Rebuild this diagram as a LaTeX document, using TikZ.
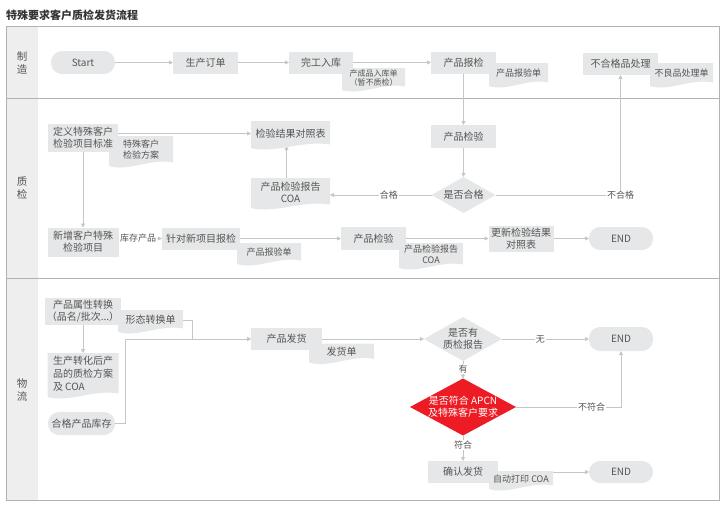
\documentclass[tikz,border=0pt]{standalone}
\usepackage{fontspec}
\setmainfont{Noto Sans CJK SC}
\usetikzlibrary{arrows.meta,shapes.geometric,calc}
\definecolor{boxgray}{RGB}{230,231,232}
\definecolor{lanegray}{RGB}{238,238,238}
\definecolor{framegray}{RGB}{178,178,178}
\definecolor{linegray}{RGB}{198,198,198}
\definecolor{textgray}{RGB}{85,85,85}
\definecolor{titlegray}{RGB}{51,51,51}
\definecolor{alertred}{RGB}{237,28,36}
\pgfdeclarelayer{edges}
\pgfdeclarelayer{docs}
\pgfsetlayers{edges,docs,main}
\newcommand{\docback}[1]{%
  \fill[boxgray] (#1.north west) -- (#1.north east) -- ([yshift=1.5pt]#1.south east)
    .. controls ($(#1.south east)!0.35!(#1.south west)+(0,6pt)$) and ($(#1.south east)!0.7!(#1.south west)+(0,-8pt)$) .. ([yshift=-2pt]#1.south west) -- cycle;}

\begin{document}
\begin{tikzpicture}[x=1pt,y=-1pt,
  box/.style={fill=boxgray, text=textgray, minimum width=65pt, minimum height=22pt, inner sep=1pt, outer sep=0pt, align=center, font=\fontsize{10}{12}\selectfont},
  term/.style={box, rounded corners=11pt},
  doc/.style={text=textgray, inner sep=1pt, outer sep=0pt, align=center, font=\fontsize{9}{11}\selectfont},
  decision/.style={diamond, fill=boxgray, inner sep=0pt, outer sep=0pt},
  dtext/.style={text=textgray, align=center, font=\fontsize{10}{12}\selectfont},
  lanetext/.style={text=textgray, align=center, inner sep=0pt, font=\fontsize{10.5}{13}\selectfont},
  flow/.style={draw=linegray, line width=0.8pt, -{Triangle[length=4pt,width=4pt]}},
  tag/.style={fill=white, text=textgray, inner sep=1pt, font=\fontsize{9}{11}\selectfont}]
\useasboundingbox (0,0) rectangle (725,506);

\node[anchor=west, inner sep=0pt, text=titlegray, font=\bfseries\fontsize{11}{13}\selectfont] (title) at (6,15) {特殊要求客户质检发货流程};
\node[lanetext] (lmake) at (22,63) {制\\造};
\node[lanetext] (lqc) at (22,188.5) {质\\检};
\node[lanetext] (llog) at (22,389.5) {物\\流};

% 制造
\node[term, minimum width=64pt, minimum height=23pt] (start) at (83,62.5) {Start};
\node[box] (order) at (205.5,62.5) {生产订单};
\node[box, minimum width=64pt] (done) at (321,62.5) {完工入库};
\node[box] (report) at (463.5,62.5) {产品报检};
\node[box, minimum width=75pt] (ngproc) at (620.5,64) {不合格品处理};

% 质检
\node[box, minimum width=70pt, minimum height=28pt] (def) at (83,138) {定义特殊客户\\检验项目标准};
\node[box, minimum height=23pt] (insp1) at (463.5,136.5) {产品检验};
\node[decision, minimum width=64pt, minimum height=36pt, label={[dtext]center:是否合格}] (pass) at (463.5,195) {};
\node[box, minimum width=71pt, minimum height=29pt] (newitem) at (83,242) {新增客户特殊\\检验项目};
\node[box, minimum width=78pt] (newrep) at (201,238.5) {针对新项目报检};
\node[box, minimum height=23pt] (insp2) at (373.5,238.5) {产品检验};
\node[box, minimum height=26pt] (update) at (521,238.5) {更新检验结果\\对照表};
\node[term, minimum width=64pt, minimum height=23pt] (end1) at (621,238.5) {END};

% 物流
\node[box, minimum width=76pt, minimum height=27pt] (conv) at (83,311.5) {产品属性转换\\（品名/批次...）};
\node[term, minimum width=67pt, minimum height=23pt] (stock) at (81.5,423.5) {合格产品库存};
\node[box, minimum width=71pt] (ship) at (286.5,339) {产品发货};
\node[decision, minimum width=78pt, minimum height=44pt, label={[dtext]center:是否有\\质检报告}] (hasrep) at (463,339) {};
\node[term, minimum width=64pt, minimum height=24pt] (end2) at (621,339) {END};
\node[decision, fill=alertred, minimum width=106pt, minimum height=57pt, label={[dtext, text=white]center:是否符合 APCN\\及特殊客户要求}] (apcn) at (463,407) {};
\node[box, minimum width=70pt] (confirm) at (463,472) {确认发货};
\node[term, minimum width=64pt, minimum height=22pt] (end3) at (621,472) {END};

% documents
\node[doc, minimum width=63pt, minimum height=20pt, font=\fontsize{8}{9.5}\selectfont] (instock) at (373.5,78) {产成品入库单\\（暂不质检）};
\node[doc, minimum width=59pt, minimum height=21pt] (repdoc1) at (518.5,73.5) {产品报验单};
\node[doc, minimum width=63pt, minimum height=21pt] (ngdoc) at (681.5,73.5) {不良品处理单};
\node[doc, minimum width=64pt, minimum height=28pt] (plan) at (141,150) {特殊客户\\检验方案};
\node[doc, minimum width=79pt, minimum height=25pt, font=\fontsize{10}{12}\selectfont] (cmp) at (290.5,133.5) {检验结果对照表};
\node[doc, minimum width=79pt, minimum height=28pt, font=\fontsize{10}{12}\selectfont] (coa1) at (290.5,192) {产品检验报告\\COA};
\node[doc, minimum width=64pt, minimum height=19pt] (repdoc2) at (269,252.5) {产品报验单};
\node[doc, minimum width=64pt, minimum height=23pt] (coa2) at (431,254.5) {产品检验报告\\COA};
\node[doc, minimum width=65pt, minimum height=20pt, font=\fontsize{10}{12}\selectfont] (formdoc) at (150.5,320) {形态转换单};
\node[doc, minimum width=65pt, minimum height=17pt, font=\fontsize{10}{12}\selectfont] (shipdoc) at (341.5,352) {发货单};
\node[doc, minimum width=71pt, minimum height=42pt, align=left, font=\fontsize{10}{13}\selectfont] (convdoc) at (83,374) {生产转化后产\\品的质检方案\\及 COA};
\node[doc, minimum width=64pt, minimum height=16pt] (coa3) at (521,479) {自动打印 COA};

\begin{pgfonlayer}{docs}
\docback{instock} \docback{repdoc1} \docback{ngdoc} \docback{plan}
\docback{cmp} \docback{coa1} \docback{repdoc2} \docback{coa2}
\docback{formdoc} \docback{shipdoc} \docback{convdoc} \docback{coa3}
\end{pgfonlayer}

\begin{pgfonlayer}{edges}
\fill[lanegray] (6,26) rectangle (38,500);
\draw[framegray, line width=0.8pt] (6,26) rectangle (719,500);
\draw[framegray, line width=0.8pt] (6,98) -- (719,98);
\draw[framegray, line width=0.8pt] (6,278) -- (719,278);

\draw[flow] (start) -- (order);
\draw[flow] (order) -- (done);
\draw[flow] (done) -- (report);
\draw[flow] (report) -- (insp1);
\draw[flow] (insp1) -- (pass);
\draw[flow] (pass.west) -- node[tag, pos=0.42] {合格} (pass.west -| coa1.east);
\draw[flow] (pass.east) -| node[tag, pos=0.5] {不合格} (ngproc.south);
\draw[flow] ([xshift=-4pt]coa1.north) -- ([xshift=-4pt]cmp.south);
\draw[flow] (def.east |- cmp.west) -- (cmp.west);
\draw[flow] (def) -- (newitem);
\draw[flow] (newitem.east |- newrep.west) -- node[tag, pos=0.45] {库存产品} (newrep.west);
\draw[flow] (newrep) -- (insp2);
\draw[flow] (insp2) -- (update);
\draw[flow] (update) -- (end1);

\draw[flow] (conv) -- (convdoc);
\draw[flow] (formdoc.east) -- ++(9,0) |- (ship.west);
\draw[flow] (stock.east) -- ++(10,0) |- (ship.west);
\draw[flow] (ship) -- (hasrep);
\draw[flow] (hasrep) -- node[tag, pos=0.44] {无} (end2);
\draw[flow] (hasrep) -- node[tag, pos=0.45] {有} (apcn);
\draw[flow] (apcn.east) -| node[tag, pos=0.36] {不符合} (end2.south);
\draw[flow] (apcn) -- node[tag, pos=0.38] {符合} (confirm);
\draw[flow] (confirm) -- (end3);
\end{pgfonlayer}
\end{tikzpicture}
\end{document}
